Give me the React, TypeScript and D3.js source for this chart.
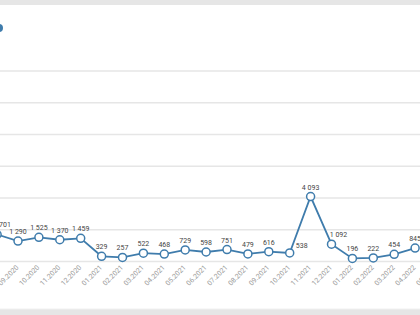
import React from "react";
import * as d3 from "d3";

const months = [
  "08.2020", "09.2020", "10.2020", "11.2020", "12.2020",
  "01.2021", "02.2021", "03.2021", "04.2021", "05.2021", "06.2021",
  "07.2021", "08.2021", "09.2021", "10.2021", "11.2021", "12.2021",
  "01.2022", "02.2022", "03.2022", "04.2022", "05.2022",
];
const values = [
  1701, 1290, 1525, 1370, 1459,
  329, 257, 522, 468, 729, 598,
  751, 479, 616, 538, 4093, 1092,
  196, 222, 454, 845,
];
const yTicks = [0, 2000, 4000, 6000, 8000, 10000, 12000];

const W = 420;
const H = 315;
const BLUE = "#3f7cac";

// label nudges (index -> [dx, dy]) to mimic the source's collision avoidance
const labelNudge: Record<number, [number, number]> = {
  0: [5, 0],
  14: [12, 2],
  16: [7, 0],
};

const fmt = (v: number) => d3.format(",")(v).replace(/,/g, " ");

export default function App() {
  const step = 20.9;
  const x0 = -2.9;
  const x = d3
    .scalePoint<string>()
    .domain(months)
    .range([x0, x0 + step * (months.length - 1)]);
  const y = d3.scaleLinear().domain([0, 12000]).range([261.5, 71]);

  const pts = values.map((v, i) => ({ v, i, cx: x(months[i])!, cy: y(v) }));
  const line = d3
    .line<{ cx: number; cy: number }>()
    .x((d) => d.cx)
    .y((d) => d.cy);

  return (
    <div style={{ position: "fixed", left: 0, top: 0 }}>
      <svg width={W} height={H} style={{ display: "block", fontFamily: "Roboto, Arial, sans-serif" }}>
        <rect x={0} y={0} width={W} height={H} fill="#ffffff" />
        <rect x={0} y={0} width={W} height={5} fill="#e6e6e6" />
        <rect x={0} y={309} width={W} height={6} fill="#e6e6e6" />
        <line x1={0} x2={W} y1={309} y2={309} stroke="#f0f0f0" />
        {yTicks.map((t) => (
          <line
            key={t}
            x1={0}
            x2={W}
            y1={y(t)}
            y2={y(t)}
            stroke="#e6e6e6"
            strokeWidth={1.3}
          />
        ))}
        <circle cx={-1} cy={28} r={4} fill={BLUE} />
        {months.map((m) => (
          <text
            key={m}
            transform={`translate(${x(m)! + 1},${268}) rotate(-45)`}
            textAnchor="end"
            fontSize={7}
            fill="#9a9a9a"
          >
            {m}
          </text>
        ))}
        <path d={line(pts) || ""} fill="none" stroke={BLUE} strokeWidth={1.8} />
        {pts.map((p) => (
          <circle
            key={p.i}
            cx={p.cx}
            cy={p.cy}
            r={4}
            fill="#ffffff"
            stroke={BLUE}
            strokeWidth={1.5}
          />
        ))}
        {pts.map((p) => {
          const [dx, dy] = labelNudge[p.i] || [0, 0];
          return (
            <text
              key={"l" + p.i}
              x={p.cx + dx}
              y={p.cy - 7 + dy}
              textAnchor="middle"
              fontSize={7}
              fill="#444444"
            >
              {fmt(p.v)}
            </text>
          );
        })}
      </svg>
    </div>
  );
}
